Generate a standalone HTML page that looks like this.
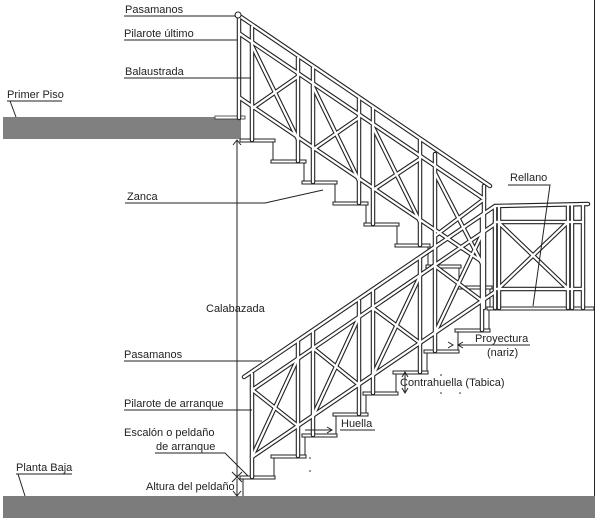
<!DOCTYPE html>
<html><head><meta charset="utf-8"><style>
html,body{margin:0;padding:0;background:#fff;}
svg{display:block;}
text{font-family:"Liberation Sans",Arial,sans-serif;font-size:11px;fill:#222;}
</style></head><body>
<svg width="600" height="522" viewBox="0 0 600 522" xmlns="http://www.w3.org/2000/svg">
<defs>
<g id="rail" fill="none" stroke-linecap="round">
 <!-- upper flight X panels -->
 <line x1="252" y1="45.5" x2="298" y2="139.5"/><line x1="252" y1="108.5" x2="298" y2="76.5"/>
 <line x1="313" y1="86.6" x2="359" y2="180.7"/><line x1="313" y1="149.6" x2="359" y2="117.7"/>
 <line x1="373" y1="127.1" x2="420" y2="221.9"/><line x1="373" y1="190.1" x2="420" y2="158.9"/>
 <line x1="435" y1="173" x2="482" y2="263.7"/><line x1="435" y1="236" x2="482" y2="200.7"/>
 <!-- upper chords -->
 <line x1="240" y1="34" x2="484" y2="199"/>
 <line x1="240" y1="98" x2="484" y2="263"/>
 <!-- upper posts -->
 <line x1="252" y1="27" x2="252" y2="140"/><line x1="298" y1="58" x2="298" y2="161"/>
 <line x1="313" y1="68" x2="313" y2="182"/><line x1="359" y1="99" x2="359" y2="203"/>
 <line x1="373" y1="108" x2="373" y2="224"/><line x1="420" y1="140" x2="420" y2="245"/>
 <line x1="435" y1="154" x2="435" y2="266"/><line x1="484" y1="186" x2="484" y2="308"/>
 <line x1="239" y1="16" x2="239" y2="118"/>
 <!-- upper handrail -->
 <line x1="238" y1="15" x2="490" y2="186"/>
 <!-- lower flight X panels -->
 <line x1="252" y1="389.6" x2="298" y2="426"/><line x1="252" y1="457" x2="298" y2="358"/>
 <line x1="313" y1="348" x2="359" y2="385"/><line x1="313" y1="416" x2="359" y2="317"/>
 <line x1="373" y1="308" x2="420" y2="343"/><line x1="373" y1="375" x2="420" y2="276"/>
 <line x1="435" y1="266" x2="482" y2="301"/><line x1="435" y1="333" x2="482" y2="234"/>
 <!-- landing X -->
 <line x1="498" y1="222" x2="568" y2="289"/><line x1="498" y1="289" x2="568" y2="222"/>
 <!-- lower chords -->
 <line x1="252" y1="390" x2="495" y2="224"/>
 <line x1="252" y1="457" x2="495" y2="292"/>
 <line x1="495" y1="222" x2="583" y2="222"/>
 <line x1="495" y1="289" x2="583" y2="289"/>
 <!-- lower posts -->
 <line x1="252" y1="374" x2="252" y2="477"/><line x1="298" y1="342" x2="298" y2="456"/>
 <line x1="313" y1="332" x2="313" y2="435"/><line x1="359" y1="301" x2="359" y2="414"/>
 <line x1="373" y1="291" x2="373" y2="393"/><line x1="420" y1="259" x2="420" y2="372"/>
 <line x1="435" y1="249" x2="435" y2="351"/><line x1="482" y1="217" x2="482" y2="330"/>
 <line x1="495" y1="207" x2="495" y2="308"/><line x1="499" y1="207" x2="499" y2="308"/>
 <line x1="568" y1="206" x2="568" y2="308"/><line x1="572" y1="206" x2="572" y2="308"/>
 <line x1="583" y1="206" x2="583" y2="308"/>
 <!-- lower handrail -->
 <polyline points="244,377 495,206 588,204"/>
</g>
</defs>

<!-- right border -->
<line x1="594.5" y1="0" x2="594.5" y2="497" stroke="#222" stroke-width="1"/>

<!-- slabs -->
<rect x="3" y="117" width="238" height="22" fill="#808080"/>
<rect x="215" y="116" width="30" height="3" fill="#fff" stroke="#333" stroke-width="0.8"/>
<rect x="3" y="496" width="592" height="22" fill="#7c7c7c"/>

<!-- treads & risers -->
<g stroke="#222" stroke-width="1" fill="#fff">
 <!-- upper flight (descending right) -->
 <rect x="240" y="139" width="35" height="3"/><line x1="273" y1="142" x2="273" y2="161"/>
 <rect x="271" y="160" width="35" height="3"/><line x1="304" y1="163" x2="304" y2="182"/>
 <rect x="302" y="181" width="35" height="3"/><line x1="335" y1="184" x2="335" y2="203"/>
 <rect x="333" y="202" width="35" height="3"/><line x1="366" y1="205" x2="366" y2="224"/>
 <rect x="364" y="223" width="35" height="3"/><line x1="397" y1="226" x2="397" y2="245"/>
 <rect x="395" y="244" width="35" height="3"/><line x1="428" y1="247" x2="428" y2="266"/>
 <rect x="426" y="265" width="35" height="3"/><line x1="459" y1="268" x2="459" y2="287"/>
 <rect x="457" y="286" width="35" height="3"/><line x1="490" y1="289" x2="490" y2="308"/>
 <!-- landing floor -->
 <rect x="487" y="307" width="107" height="3"/>
 <!-- lower flight (ascending right) -->
 <rect x="240" y="476" width="35" height="3"/><line x1="243" y1="479" x2="243" y2="496"/>
 <rect x="271" y="455" width="35" height="3"/><line x1="274" y1="458" x2="274" y2="476"/>
 <rect x="302" y="434" width="35" height="3"/><line x1="305" y1="437" x2="305" y2="455"/>
 <rect x="333" y="413" width="35" height="3"/><line x1="336" y1="416" x2="336" y2="434"/>
 <rect x="363" y="392" width="35" height="3"/><line x1="366" y1="395" x2="366" y2="413"/>
 <rect x="393" y="371" width="35" height="3"/><line x1="396" y1="374" x2="396" y2="392"/>
 <rect x="424" y="350" width="35" height="3"/><line x1="427" y1="353" x2="427" y2="371"/>
 <rect x="455" y="329" width="35" height="3"/><line x1="458" y1="332" x2="458" y2="350"/>
 <line x1="489" y1="310" x2="489" y2="329"/>
</g>

<!-- railing tubes -->
<use href="#rail" stroke="#222" stroke-width="4.5"/>
<use href="#rail" stroke="#fff" stroke-width="2.3"/>
<circle cx="238" cy="15" r="3" fill="#fff" stroke="#222" stroke-width="1"/>

<!-- dimension line calabazada -->
<g stroke="#222" stroke-width="1" fill="none">
 <line x1="237" y1="140" x2="237" y2="477"/>
 <polyline points="233,145 237,140 241,145"/>
 <line x1="232" y1="472" x2="242" y2="482"/><line x1="242" y1="472" x2="232" y2="482"/>
 <line x1="237" y1="479" x2="237" y2="496"/>
 <polyline points="233,491 237,496 241,491"/>
</g>

<!-- leader lines -->
<g stroke="#222" stroke-width="1" fill="none">
 <line x1="124" y1="16" x2="236" y2="16"/>
 <line x1="124" y1="40" x2="237" y2="40"/>
 <line x1="124" y1="78" x2="251" y2="78"/>
 <polyline points="7,101 62,101"/><line x1="10" y1="101" x2="16" y2="117"/>
 <polyline points="125,203 265,203 323,190"/>
 <polyline points="508,185 550,185 533,306"/>
 <line x1="124" y1="361" x2="262" y2="361"/>
 <line x1="124" y1="410" x2="252" y2="410"/>
 <polyline points="155,453 225,453 248,476"/>
 <polyline points="16,474 72,474"/><line x1="18" y1="474" x2="25" y2="496"/>
 <line x1="474" y1="345" x2="530" y2="345"/>
 <polyline points="458,345 480,345"/>
 <polyline points="448,342 453,345 448,348"/><polyline points="463,342 458,345 463,348"/>
 <line x1="340" y1="430" x2="375" y2="430"/>
 <line x1="305" y1="430" x2="332" y2="430"/>
 <polyline points="327,427 332,430 327,433"/>
 <line x1="405" y1="372" x2="405" y2="393"/>
 <polyline points="402,377 405,372 408,377"/><polyline points="402,388 405,393 408,388"/>
</g>

<!-- labels -->
<text x="125" y="13">Pasamanos</text>
<text x="124" y="37">Pilarote último</text>
<text x="125" y="75">Balaustrada</text>
<text x="7" y="98">Primer Piso</text>
<text x="127" y="200">Zanca</text>
<text x="206" y="312">Calabazada</text>
<text x="510" y="181">Rellano</text>
<text x="124" y="358">Pasamanos</text>
<text x="475" y="342">Proyectura</text>
<text x="487" y="356">(nariz)</text>
<text x="400" y="386">Contrahuella (Tabica)</text>
<text x="124" y="407">Pilarote de arranque</text>
<text x="341" y="427">Huella</text>
<text x="124" y="436">Escalón o peldaño</text>
<text x="156" y="450">de arranque</text>
<text x="16" y="471">Planta Baja</text>
<text x="146" y="490">Altura del peldaño</text>

<g fill="#222"><circle cx="310" cy="458" r="0.8"/><circle cx="310" cy="471" r="0.8"/><circle cx="441" cy="375" r="0.8"/><circle cx="441" cy="393" r="0.8"/><circle cx="460" cy="393" r="0.8"/></g>
</svg>
</body></html>
